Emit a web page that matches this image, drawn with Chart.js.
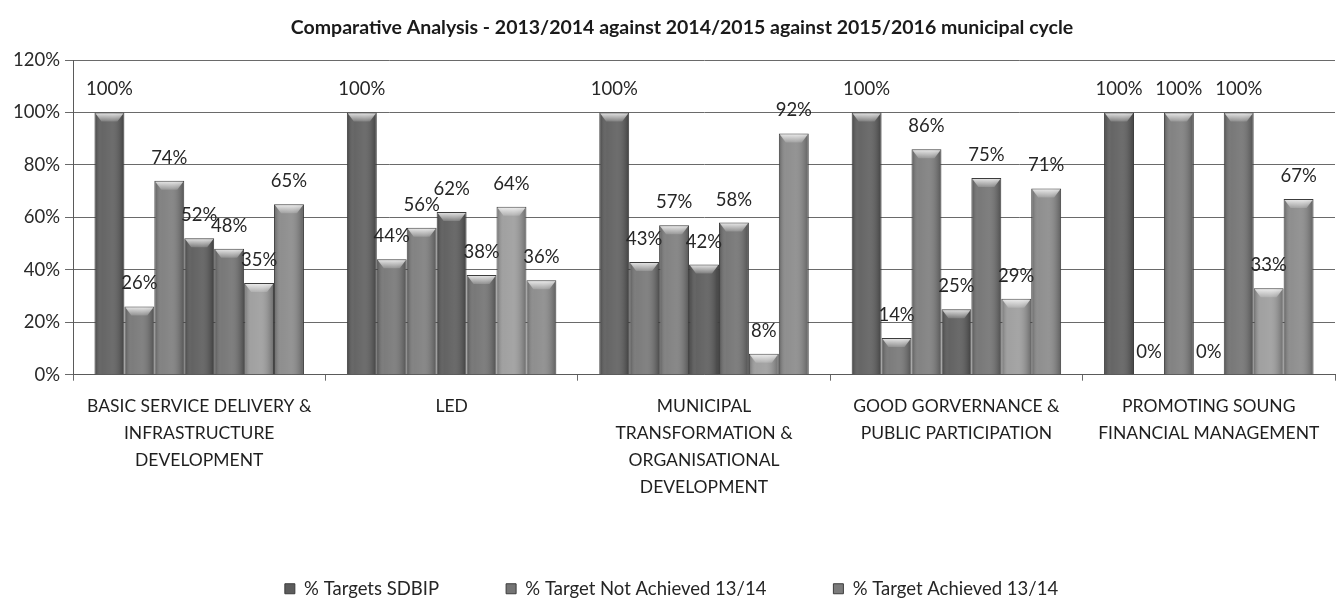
<!DOCTYPE html>
<html>
<head>
<meta charset="utf-8">
<title>Comparative Analysis</title>
<script src="https://cdn.jsdelivr.net/npm/chart.js@4"></script>
<style>
  html, body { margin: 0; padding: 0; background: #fff; }
  .diagram-container { width: 1343px; height: 614px; position: relative; }
</style>
</head>
<body>
<div class="diagram-container">
  <canvas id="kpaChart"></canvas>
</div>
<script>
// Chart data: key performance areas and the percentage per series
const chartTitle = 'Comparative Analysis - 2013/2014 against 2014/2015 against 2015/2016 municipal cycle';

const categories = [
    ['BASIC SERVICE DELIVERY &', 'INFRASTRUCTURE', 'DEVELOPMENT'],
    ['LED'],
    ['MUNICIPAL', 'TRANSFORMATION &', 'ORGANISATIONAL', 'DEVELOPMENT'],
    ['GOOD GORVERNANCE &', 'PUBLIC PARTICIPATION'],
    ['PROMOTING SOUNG', 'FINANCIAL MANAGEMENT']
];

const seriesNames = [
    '% Targets SDBIP',
    '% Target Not Achieved 13/14',
    '% Target Achieved 13/14',
    '% Target Not Achieved 14/15',
    '% Target Achieved 14/15',
    '% Target Not Achieved 15/16',
    '% Target Achieved 15/16'
];

const targetsSdbip      = [100, 100, 100, 100, 100];
const notAchieved1314   = [26, 44, 43, 14, 0];
const achieved1314      = [74, 56, 57, 86, 100];
const notAchieved1415   = [52, 62, 42, 25, 0];
const achieved1415      = [48, 38, 58, 75, 100];
const notAchieved1516   = [35, 64, 8, 29, 33];
const achieved1516      = [65, 36, 92, 71, 67];

const yTicks = [0, 20, 40, 60, 80, 100, 120];

const seriesValues = [targetsSdbip, notAchieved1314, achieved1314, notAchieved1415,
                      achieved1415, notAchieved1516, achieved1516];
const seriesColors = ['#5c5c5c', '#747474', '#7b7b7b', '#595959', '#707070', '#9b9b9b', '#888888'];

const FONT = 'Lato, "Open Sans", sans-serif';

// Title drawn above the plot
const titlePlugin = {
    id: 'topTitle',
    afterDraw(chart) {
        const ctx = chart.ctx;
        ctx.save();
        ctx.font = 'bold 19.5px ' + FONT;
        ctx.fillStyle = '#1a1a1a';
        ctx.textAlign = 'center';
        ctx.textBaseline = 'middle';
        ctx.fillText(chartTitle, 682, 28);
        ctx.restore();
    }
};

// Gives each bar a rounded, bevelled look and writes its value above it
const barStylePlugin = {
    id: 'barStyle',
    afterDatasetsDraw(chart) {
        const ctx = chart.ctx;
        chart.data.datasets.forEach((ds, di) => {
            const meta = chart.getDatasetMeta(di);
            meta.data.forEach((bar, i) => {
                const { x, y, base, width } = bar.getProps(['x', 'y', 'base', 'width'], true);
                const left = x - width / 2;
                const right = x + width / 2;
                const h = base - y;
                ctx.save();
                if (h > 1) {
                    // side shading
                    const g = ctx.createLinearGradient(left, 0, right, 0);
                    g.addColorStop(0, 'rgba(0,0,0,0.30)');
                    g.addColorStop(0.25, 'rgba(255,255,255,0.06)');
                    g.addColorStop(0.55, 'rgba(255,255,255,0.10)');
                    g.addColorStop(1, 'rgba(0,0,0,0.32)');
                    ctx.fillStyle = g;
                    ctx.fillRect(left + 1, y + 1, width - 2, h - 1);
                    // bevel on top
                    const bh = Math.min(9, h - 1);
                    const bg = ctx.createLinearGradient(0, y, 0, y + bh);
                    bg.addColorStop(0, 'rgba(255,255,255,0.85)');
                    bg.addColorStop(1, 'rgba(255,255,255,0.15)');
                    ctx.fillStyle = bg;
                    ctx.beginPath();
                    ctx.moveTo(left + 1, y + 1);
                    ctx.lineTo(right - 1, y + 1);
                    ctx.lineTo(right - 7, y + bh);
                    ctx.lineTo(left + 7, y + bh);
                    ctx.closePath();
                    ctx.fill();
                }
                // value label
                ctx.font = '18.5px ' + FONT;
                ctx.fillStyle = '#262626';
                ctx.textAlign = 'center';
                ctx.textBaseline = 'middle';
                ctx.fillText(ds.data[i] + '%', x, y - 23);
                ctx.restore();
            });
        });
    }
};

const kpaChart = new Chart(document.getElementById('kpaChart').getContext('2d'), {
    type: 'bar',
    data: {
        labels: categories,
        datasets: seriesNames.map((name, i) => ({
            label: name,
            data: seriesValues[i],
            backgroundColor: seriesColors[i],
            borderColor: '#3c3c3c',
            borderWidth: 1,
            categoryPercentage: 0.83,
            barPercentage: 1.0
        }))
    },
    options: {
        responsive: true,
        maintainAspectRatio: false,
        animation: false,
        layout: { padding: { top: 60, left: 8, right: 8, bottom: 6 } },
        plugins: {
            title: { display: false },
            tooltip: { enabled: false },
            legend: {
                position: 'bottom',
                labels: {
                    // only the first three series appear in the key
                    filter: item => item.datasetIndex < 3,
                    boxWidth: 10,
                    boxHeight: 10,
                    padding: 67,
                    color: '#262626',
                    font: { family: FONT, size: 18.5 }
                }
            }
        },
        scales: {
            x: {
                grid: { drawOnChartArea: false, offset: true, tickLength: 6, color: '#6a6a6a' },
                border: { color: '#5a5a5a' },
                ticks: {
                    color: '#1f1f1f',
                    padding: 12,
                    maxRotation: 0,
                    autoSkip: false,
                    font: { family: FONT, size: 17.5, lineHeight: 1.54 }
                }
            },
            y: {
                min: 0,
                max: 120,
                afterBuildTicks(axis) { axis.ticks = yTicks.map(v => ({ value: v })); },
                grid: { color: '#6a6a6a', tickLength: 8 },
                border: { color: '#5a5a5a' },
                ticks: {
                    color: '#2a2a2a',
                    padding: 5,
                    font: { family: FONT, size: 18.5 },
                    callback: v => v + '%'
                }
            }
        }
    },
    plugins: [barStylePlugin, titlePlugin]
});
</script>
</body>
</html>
